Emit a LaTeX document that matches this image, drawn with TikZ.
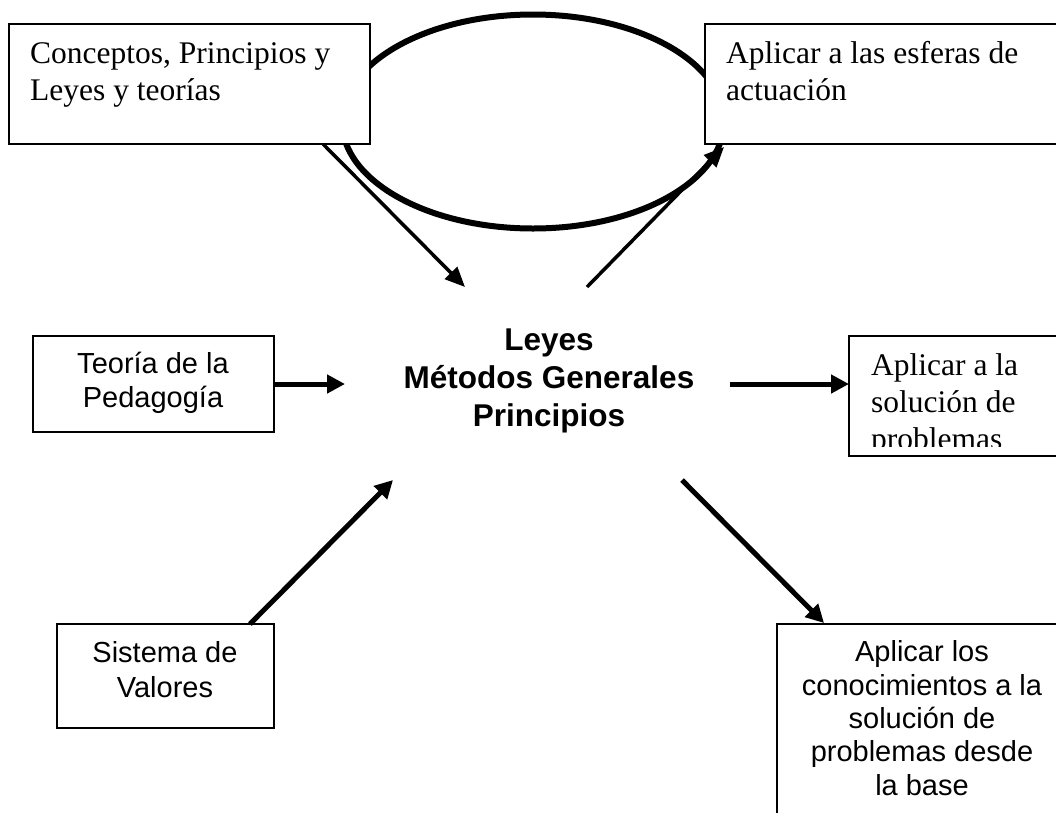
\documentclass[tikz,border=0pt]{standalone}
\usepackage{fontspec}
\setmainfont{Liberation Serif}
\newfontfamily\arialf{Liberation Sans}
\usetikzlibrary{arrows.meta,shapes.geometric}
\begin{document}
\begin{tikzpicture}[x=1pt,y=-1pt,
  box/.style={draw, line width=2pt, fill=white, inner sep=0pt, outer sep=0pt, anchor=north west},
  serif/.style={inner sep=0pt, align=left, font=\fontsize{31.5}{37}\selectfont},
  sans/.style={inner sep=0pt, align=center, font=\arialf\fontsize{29}{34.5}\selectfont},
  core/.style={inner sep=0pt, align=center, font=\arialf\bfseries\fontsize{31.5}{38}\selectfont},
  thinarrow/.style={line width=3.5pt, -{Triangle[length=20pt,width=17pt]}},
  fatarrow/.style={line width=5pt, -{Triangle[length=18pt,width=18pt]}}]
\useasboundingbox (0,0) rectangle (1056,812);
\clip (0,0) rectangle (1056,812);
% cycle ellipse behind the boxes
\node[ellipse, draw, line width=6pt, minimum width=382pt, minimum height=214pt, inner sep=0pt] (cyc) at (533,121.5) {};
% boxes
\node[box, minimum width=361pt, minimum height=120pt] (b1) at (9,24) {};
\node[box, minimum width=400pt, minimum height=120pt] (b2) at (705,24) {};
\node[box, minimum width=241pt, minimum height=96pt] (b3) at (33,336) {};
\node[box, minimum width=250pt, minimum height=120pt] (b4) at (849,336) {};
\node[box, minimum width=217pt, minimum height=104pt] (b5) at (57,624) {};
\node[box, minimum width=330pt, minimum height=250pt] (b6) at (777,624) {};
% texts (anchor base = baseline of the last line)
\node[serif, anchor=base west] (t1) at (30,100) {Conceptos, Principios y\\Leyes y teorías};
\node[serif, anchor=base west] (t2) at (726,100) {Aplicar a las esferas de\\actuación};
\node[sans, font=\arialf\fontsize{29}{34}\selectfont, anchor=base] (t3) at (153,407) {Teoría de la\\Pedagogía};
\node[core, anchor=base] (c) at (549,426) {Leyes\\Métodos Generales\\Principios};
\begin{scope}
  \clip (849,336) rectangle (1056,446);
  \node[serif, anchor=base west] (t4) at (871,449) {Aplicar a la\\solución de\\problemas};
\end{scope}
\node[sans, font=\arialf\fontsize{29}{35}\selectfont, anchor=base] (t5) at (165,697) {Sistema de\\Valores};
\node[sans, font=\arialf\fontsize{29}{33.3}\selectfont, anchor=base] (t6) at (922,795) {Aplicar los\\conocimientos a la\\solución de\\problemas desde\\la base};
% connector end points
\coordinate (aS) at (323,144);
\coordinate (aT) at (465,287);
\coordinate (bS) at (587,287);
\coordinate (bT) at (724,147);
\coordinate (cT) at (345,384);
\coordinate (dS) at (730,384);
\coordinate (eS) at (250,624);
\coordinate (eT) at (393,480);
\coordinate (fS) at (682,480);
\coordinate (fT) at (824,623);
% connectors
\draw[thinarrow] (aS) -- (aT);
\draw[thinarrow] (bS) -- (bT);
\draw[fatarrow] (b3.east) -- (cT);
\draw[fatarrow] (dS) -- (dS -| b4.west);
\draw[fatarrow] (eS) -- (eT);
\draw[fatarrow] (fS) -- (fT);
\end{tikzpicture}
\end{document}
